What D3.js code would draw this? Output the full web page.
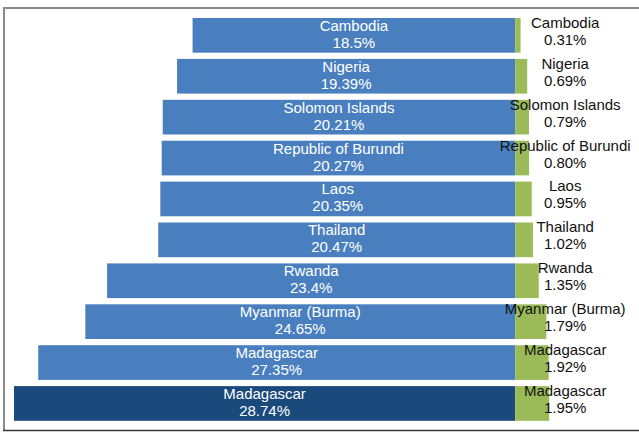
<!DOCTYPE html>
<html>
<head>
<meta charset="utf-8">
<script src="https://cdn.jsdelivr.net/npm/d3@7"></script>
<style>
  body { margin: 0; background: #fff; }
  svg { display: block; font-family: "Liberation Sans", Arial, sans-serif; }
</style>
</head>
<body>
<div id="chart"></div>
<script>
// values
const countries = ["Cambodia", "Nigeria", "Solomon Islands", "Republic of Burundi", "Laos",
    "Thailand", "Rwanda", "Myanmar (Burma)", "Madagascar", "Madagascar"];
const blueValues = [18.5, 19.39, 20.21, 20.27, 20.35, 20.47, 23.4, 24.65, 27.35, 28.74];
const greenValues = [0.31, 0.69, 0.79, 0.80, 0.95, 1.02, 1.35, 1.79, 1.92, 1.95];
const highlightIndex = 9;

const width = 639, height = 432;

const svg = d3.select("#chart").append("svg")
    .attr("width", width)
    .attr("height", height);

const rows = countries.map((c, i) => ({
    i: i, name: c, blue: blueValues[i], green: greenValues[i]
}));

const x = d3.scaleLinear().domain([-28.74, 7.1]).range([14, 639]);
const y = d3.scaleBand()
    .domain(d3.range(countries.length))
    .range([18, 420.8])
    .paddingInner(0.152)
    .paddingOuter(0);

// frame
svg.append("line").attr("x1", 4).attr("x2", width).attr("y1", 8).attr("y2", 8)
    .attr("stroke", "#8a8a8a").attr("stroke-width", 2);
svg.append("line").attr("x1", 4).attr("x2", 4).attr("y1", 7).attr("y2", 430)
    .attr("stroke", "#8a8a8a").attr("stroke-width", 2);
svg.append("line").attr("x1", 3).attr("x2", width).attr("y1", 430.5).attr("y2", 430.5)
    .attr("stroke", "#3a3a3a").attr("stroke-width", 1.5);

const g = svg.append("g");

// blue bars (left of zero)
g.selectAll("rect.blue").data(rows).enter().append("rect")
    .attr("class", "blue")
    .attr("x", d => x(-d.blue))
    .attr("y", d => y(d.i))
    .attr("width", d => x(0) - x(-d.blue))
    .attr("height", y.bandwidth())
    .attr("fill", d => d.i === highlightIndex ? "#1a497c" : "#4a7fbf");

// green bars (right of zero)
g.selectAll("rect.green").data(rows).enter().append("rect")
    .attr("class", "green")
    .attr("x", x(0))
    .attr("y", d => y(d.i))
    .attr("width", d => x(d.green) - x(0))
    .attr("height", y.bandwidth())
    .attr("fill", "#9bbb59");

// labels inside blue bars
const blueLab = g.selectAll("text.blab").data(rows).enter().append("text")
    .attr("class", "blab")
    .attr("text-anchor", "middle")
    .attr("fill", "#fff")
    .style("font-size", "15px")
    .attr("x", d => (x(-d.blue) + x(0)) / 2);
blueLab.append("tspan")
    .attr("x", d => (x(-d.blue) + x(0)) / 2)
    .attr("y", d => y(d.i) + y.bandwidth() / 2 - 4.5)
    .text(d => d.name);
blueLab.append("tspan")
    .attr("x", d => (x(-d.blue) + x(0)) / 2)
    .attr("y", d => y(d.i) + y.bandwidth() / 2 + 12.5)
    .text(d => d.blue + "%");

// labels right of green bars
const gx = x(0) + 50;
const greenLab = g.selectAll("text.glab").data(rows).enter().append("text")
    .attr("class", "glab")
    .attr("text-anchor", "middle")
    .attr("fill", "#111")
    .style("font-size", "15px");
greenLab.append("tspan")
    .attr("x", gx)
    .attr("y", d => y(d.i) + y.bandwidth() / 2 - 7.5)
    .text(d => d.name);
greenLab.append("tspan")
    .attr("x", gx)
    .attr("y", d => y(d.i) + y.bandwidth() / 2 + 9.5)
    .text(d => d.green.toFixed(2) + "%");
</script>
</body>
</html>
